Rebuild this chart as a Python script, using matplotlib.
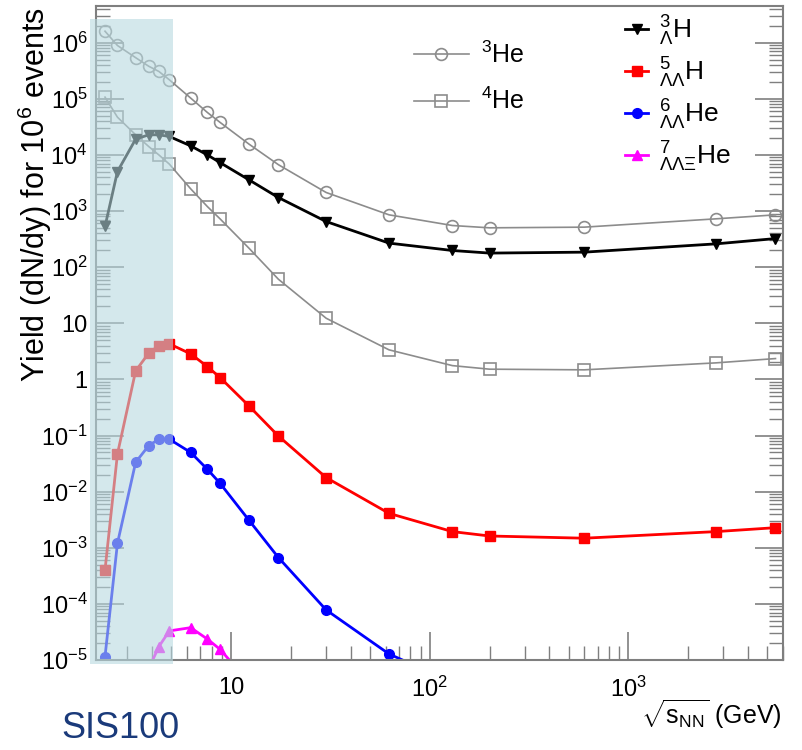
import matplotlib
matplotlib.use("Agg")
import matplotlib.pyplot as plt
import matplotlib.ticker as mticker
from matplotlib.patches import Rectangle
import numpy as np

plt.rcParams['font.family'] = ['Liberation Sans', 'DejaVu Sans']
plt.rcParams['mathtext.fontset'] = 'custom'
plt.rcParams['mathtext.rm'] = 'Liberation Sans'
plt.rcParams['mathtext.it'] = 'Liberation Sans:italic'
plt.rcParams['mathtext.sf'] = 'Liberation Sans'

# collision energies sqrt(s_NN) in GeV
energy = [2.32, 2.68, 3.31, 3.85, 4.33, 4.89, 6.26, 7.6, 8.8, 12.3, 17.3, 30.1,
          62.4, 130, 200, 600, 2760, 5500]

he3 = [1.6e6, 8.9e5, 5.4e5, 3.8e5, 3.07e5, 2.18e5, 1.03e5, 5.7e4, 3.8e4, 1.56e4,
       6.7e3, 2.14e3, 855, 552, 502, 516, 726, 855]
he4 = [1.07e5, 4.7e4, 2.28e4, 1.41e4, 1.0e4, 6.85e3, 2.49e3, 1.2e3, 726, 218,
       61, 12.3, 3.36, 1.76, 1.52, 1.48, 1.97, 2.35]
h3l = [530, 5.06e3, 1.91e4, 2.28e4, 2.28e4, 2.13e4, 1.45e4, 1.0e4, 7.3e3, 3.6e3,
       1.74e3, 650, 268, 198, 178, 185, 260, 323]
h5ll = [4.0e-4, 0.047, 1.42, 2.93, 4.0, 4.3, 2.85, 1.69, 1.08, 0.337,
        0.098, 0.0178, 4.1e-3, 1.94e-3, 1.62e-3, 1.48e-3, 1.94e-3, 2.28e-3]
# 6_LL He drops below the plot range after 62 GeV
he6ll_e = energy[:14]
he6ll = [1.15e-5, 1.2e-3, 0.0334, 0.066, 0.086, 0.086, 0.050, 0.025, 0.0141,
         3.1e-3, 6.7e-4, 7.8e-5, 1.28e-5, 4e-6]
he7_e = [3.85, 4.33, 4.89, 6.26, 7.6, 8.8, 12.3]
he7 = [7e-6, 1.73e-5, 3.3e-5, 3.77e-5, 2.36e-5, 1.55e-5, 4e-6]

fig = plt.figure(figsize=(8.02, 7.5), dpi=100)
ax = fig.add_axes([0.1197, 0.12, 0.8566, 0.872])

gray = '#8c8c8c'
ax.plot(energy, he3, color=gray, lw=1.2, marker='o', ms=8.5, mfc='none', mec=gray,
        mew=1.2, label='$^{3}$He')
ax.plot(energy, he4, color=gray, lw=1.2, marker='s', ms=8.5, mfc='none', mec=gray,
        mew=1.2, label='$^{4}$He')
l1, = ax.plot(energy, h3l, color='black', lw=2, marker='v', ms=7)
l2, = ax.plot(energy, h5ll, color='#ff0000', lw=2, marker='s', ms=7)
l3, = ax.plot(he6ll_e, he6ll, color='#0000ff', lw=2, marker='o', ms=7)
l4, = ax.plot(he7_e, he7, color='#ff00ff', lw=2, marker='^', ms=7)

ax.set_xscale('log')
ax.set_yscale('log')
ax.set_xlim(2.09, 6000)
ax.set_ylim(1e-5, 4.5e6)

axc = '#7f7f7f'
for s in ax.spines.values():
    s.set_color(axc)
    s.set_linewidth(1.5)

ax.yaxis.set_ticks_position('both')
ax.xaxis.set_ticks_position('bottom')
ax.tick_params(which='major', direction='in', length=20, width=1.2, color=axc,
               labelsize=17, pad=6)
ax.tick_params(axis='x', which='major', pad=12)
ax.tick_params(which='minor', direction='in', length=10, width=1.0, color=axc)

yt = [1e-5, 1e-4, 1e-3, 1e-2, 1e-1, 1, 10, 1e2, 1e3, 1e4, 1e5, 1e6]
ylab = ['$10^{-5}$', '$10^{-4}$', '$10^{-3}$', '$10^{-2}$', '$10^{-1}$', '1', '10',
        '$10^{2}$', '$10^{3}$', '$10^{4}$', '$10^{5}$', '$10^{6}$']
ax.set_yticks(yt)
ax.set_yticklabels(ylab)
ax.yaxis.set_minor_locator(mticker.LogLocator(base=10, subs=np.arange(2, 10), numticks=30))
ax.yaxis.set_minor_formatter(mticker.NullFormatter())
ax.set_xticks([10, 100, 1000])
ax.set_xticklabels(['10', '$10^{2}$', '$10^{3}$'])
ax.xaxis.set_minor_locator(mticker.LogLocator(base=10, subs=np.arange(2, 10), numticks=30))
ax.xaxis.set_minor_formatter(mticker.NullFormatter())

fig.text(0.043, 0.99, 'Yield (dN/dy) for 10$^{6}$ events', fontsize=22,
         rotation=90, ha='center', va='top')
fig.text(0.975, 0.025, r'$\sqrt{\mathsf{s_{NN}}}$ (GeV)', fontsize=18, ha='right', va='bottom')

leg1 = ax.legend(loc='upper left', bbox_to_anchor=(0.43, 0.98), frameon=False,
                 fontsize=18, handlelength=2.2, labelspacing=0.8, handletextpad=0.5)
ax.add_artist(leg1)
ax.legend([l1, l2, l3, l4],
          [r'${}^{3}_{\Lambda}$H', r'${}^{5}_{\Lambda\Lambda}$H',
           r'${}^{6}_{\Lambda\Lambda}$He', r'${}^{7}_{\Lambda\Lambda\Xi}$He'],
          loc='upper left', bbox_to_anchor=(0.735, 1.025), frameon=False,
          fontsize=19, handlelength=0.9, labelspacing=0.3, handletextpad=0.4)

# SIS100 energy range band drawn over the axes
fig.patches.append(Rectangle((0.1122, 0.1147), 0.1031, 0.8596, transform=fig.transFigure,
                             facecolor='#b7d9e0', alpha=0.59, edgecolor='none', zorder=5))
fig.text(0.077, 0.005, 'SIS100', fontsize=26, color='#1a3a7a', ha='left', va='bottom')

fig.savefig('out.png', dpi=100)
